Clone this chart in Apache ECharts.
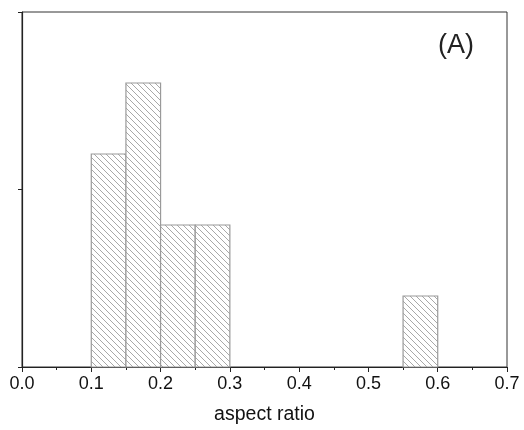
<!DOCTYPE html>
<html><head><meta charset="utf-8">
<script src="https://cdn.jsdelivr.net/npm/echarts@6/dist/echarts.min.js"></script>
<style>html,body{margin:0;padding:0;background:#fff}#c{width:524px;height:430px}</style>
</head><body><div id="c"></div>
<script>
const binStarts = [0.10, 0.15, 0.20, 0.25, 0.55];
const counts = [3, 4, 2, 2, 1];
const binWidth = 0.05;
const xTicks = ['0.0','0.1','0.2','0.3','0.4','0.5','0.6','0.7'];
const panelLabel = '(A)';
const xName = 'aspect ratio';

const pat = document.createElement('canvas');
pat.width = 6; pat.height = 6;
const g = pat.getContext('2d');
g.fillStyle = '#fff'; g.fillRect(0,0,6,6);
g.strokeStyle = '#a8a8a8'; g.lineWidth = 1;
g.beginPath();
g.moveTo(-1,-1); g.lineTo(7,7);
g.moveTo(-4,2); g.lineTo(4,10);
g.moveTo(2,-4); g.lineTo(10,4);
g.stroke();

const data = binStarts.map((s,i)=>[s, s+binWidth, counts[i]]);
const chart = echarts.init(document.getElementById('c'));
const font = '"Liberation Sans", Arial, sans-serif';
chart.setOption({
  animation:false,
  grid:{left:22,right:17,top:12,bottom:58,show:true,borderColor:'#333',borderWidth:1},
  xAxis:{type:'value',min:0,max:0.7,interval:0.1,
    name:xName,nameLocation:'middle',nameGap:38,
    nameTextStyle:{fontFamily:font,fontSize:19.5,color:'#111'},
    axisLine:{show:true,lineStyle:{color:'#222',width:1.2}},
    axisTick:{show:true,inside:false,length:5,lineStyle:{color:'#222'}},
    minorTick:{show:true,splitNumber:2,length:3,lineStyle:{color:'#222'}},
    splitLine:{show:false},
    axisLabel:{fontFamily:font,fontSize:18,color:'#111',margin:8,
      formatter:(v)=>xTicks[Math.round(v*10)]}
  },
  yAxis:{type:'value',min:0,max:5,interval:2.5,
    axisLine:{show:true,lineStyle:{color:'#222',width:1.2}},
    axisTick:{show:true,length:4,lineStyle:{color:'#222'}},
    axisLabel:{show:false},splitLine:{show:false}
  },
  series:[{type:'custom',
    renderItem:(params,api)=>{
      const p0 = api.coord([api.value(0), api.value(2)]);
      const p1 = api.coord([api.value(1), 0]);
      return {type:'rect',shape:{x:p0[0],y:p0[1],width:p1[0]-p0[0],height:p1[1]-p0[1]},
        style:{fill:{image:pat,repeat:'repeat'},stroke:'#9a9a9a',lineWidth:1.2}};
    },
    encode:{x:[0,1],y:2},
    data:data
  }],
  graphic:[{type:'text',right:50,top:32,style:{text:panelLabel,font:'27px '+font,fill:'#222'}}]
});
</script></body></html>
